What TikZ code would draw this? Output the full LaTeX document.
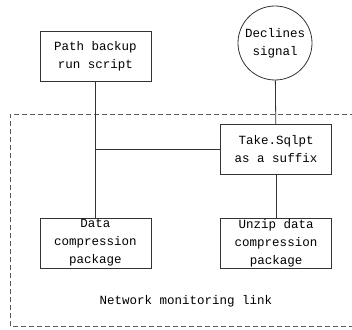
\documentclass[tikz,border=0pt]{standalone}
\usepackage{fontspec}
\setmainfont{Liberation Mono}
\usetikzlibrary{positioning}

\begin{document}
\begin{tikzpicture}[
    x=1pt, y=1pt,
    box/.style={rectangle, draw=black!80, thick, minimum width=111pt, minimum height=50pt, align=center, inner sep=0pt, font=\fontsize{12.5}{18}\selectfont},
    signal/.style={circle, draw=black!80, thick, minimum size=74pt, align=center, inner sep=0pt, font=\fontsize{12.5}{18}\selectfont},
    line/.style={-, draw=black!80, thick}
]
    \useasboundingbox (0,0) rectangle (352,329);

    % Upper nodes
    \node[box] (backup) at (95.5,273) {Path backup\\run script};
    \node[signal] (declines) at (275,286) {Declines\\signal};

    % Network area
    \draw[black!65, thick, dash pattern=on 5pt off 3pt] (10,3) rectangle (362,215);
    \node[box] (suffix) at (276,179.5) {Take.Sqlpt\\as a suffix};
    \node[box] (compress) at (95.5,86) {Data\\compression\\package};
    \node[box] (unzip) at (276,86) {Unzip data\\compression\\package};
    \node[font=\fontsize{12.5}{18}\selectfont] (netlink) at (186,28) {Network monitoring link};

    % Connect components
    \coordinate (joint) at (backup |- suffix);
    \draw[line] (backup) -- (compress);
    \draw[line] (suffix) -- (joint);
    \draw[line] (declines) -- (suffix);
    \draw[line] (suffix) -- (unzip);

\end{tikzpicture}
\end{document}
